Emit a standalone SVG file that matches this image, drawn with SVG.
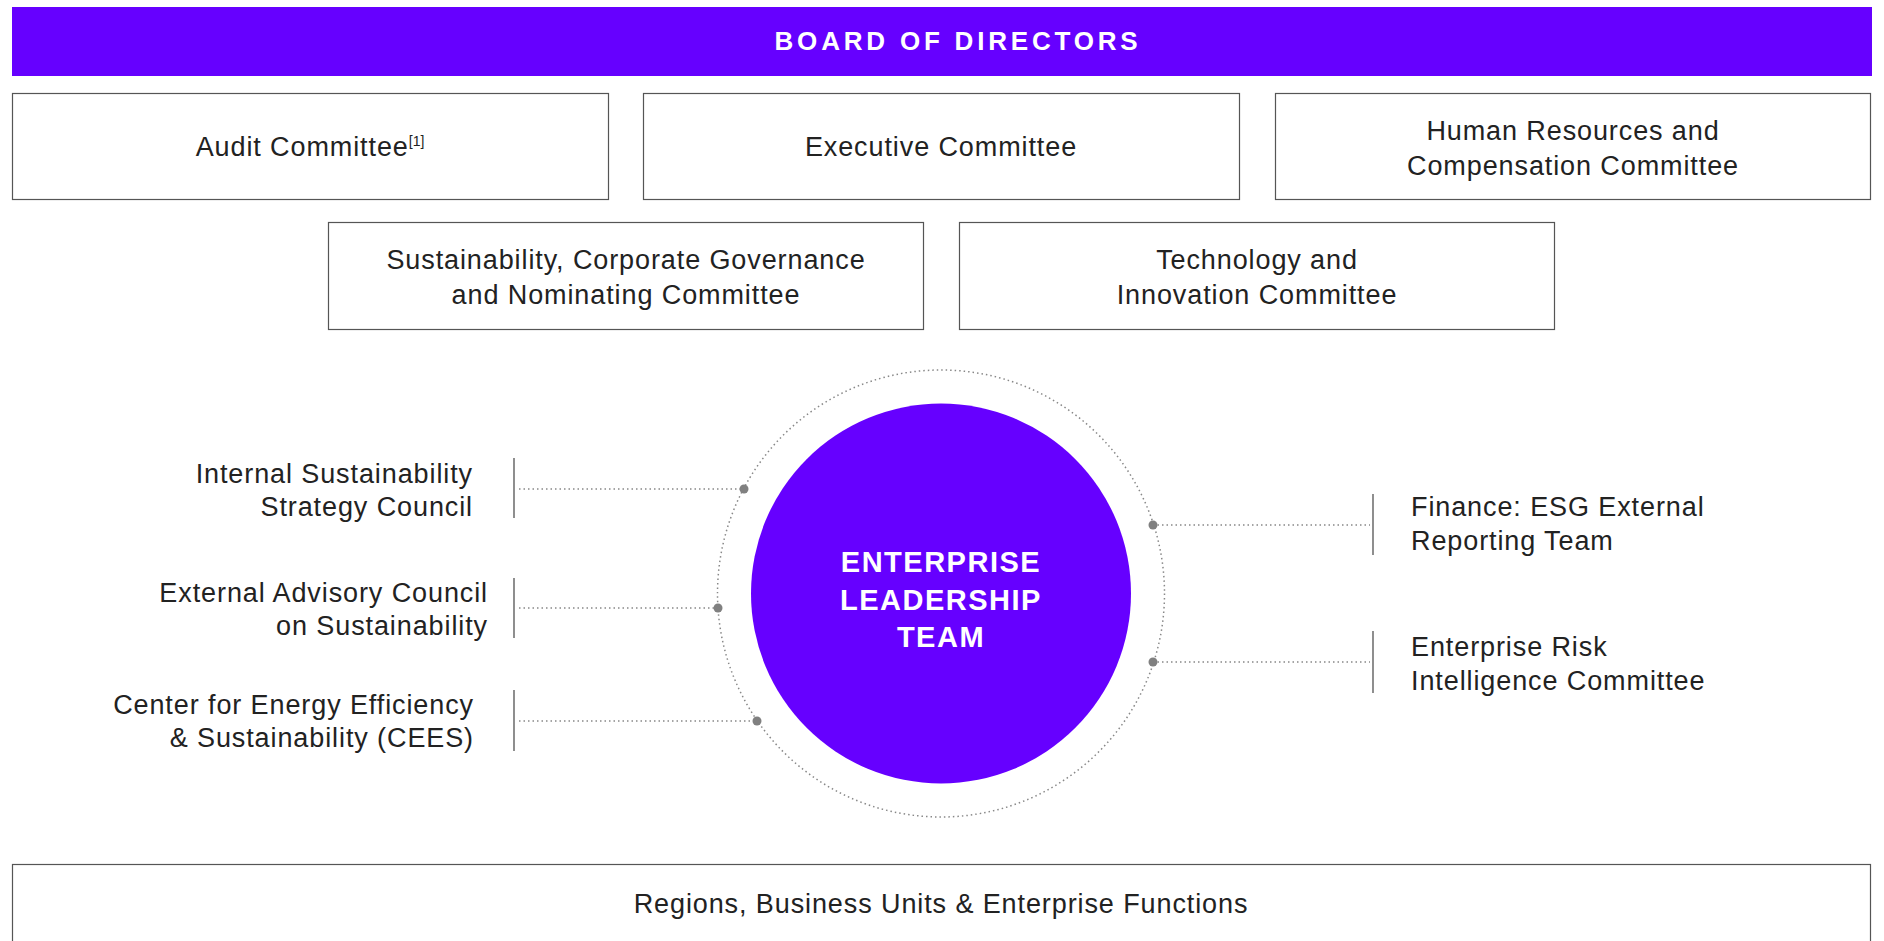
<svg xmlns="http://www.w3.org/2000/svg" width="1884" height="941" viewBox="0 0 1884 941">
<style>
.box{fill:#fff;stroke:#555;stroke-width:1.2}
.t{font-family:"Liberation Sans",Arial,sans-serif;font-size:27px;letter-spacing:0.9px;fill:#222}
.c{text-anchor:middle}
.r{text-anchor:end}
.w{font-family:"Liberation Sans",Arial,sans-serif;font-weight:bold;fill:#fff;text-anchor:middle}
.dot{stroke:#888;stroke-width:1.5;stroke-dasharray:1.5 3;fill:none}
.bar{stroke:#444;stroke-width:1.2}
.pt{fill:#808080}
</style>
<rect width="1884" height="941" fill="#fff"/>
<g id="board">
<rect x="12" y="7" width="1860" height="69" fill="#6600FF"/>
<text class="w" x="958" y="50" font-size="26" letter-spacing="3.8">BOARD OF DIRECTORS</text>
</g>
<g id="audit">
<rect class="box" x="12.5" y="93.5" width="596" height="106"/>
<text class="t c" x="310" y="156">Audit Committee<tspan font-size="14" letter-spacing="0" dy="-10">[1]</tspan></text>
</g>
<g id="executive">
<rect class="box" x="643.5" y="93.5" width="596" height="106"/>
<text class="t c" x="941" y="156">Executive Committee</text>
</g>
<g id="hr">
<rect class="box" x="1275.5" y="93.5" width="595" height="106"/>
<text class="t c" x="1573" y="140">Human Resources and</text>
<text class="t c" x="1573" y="175">Compensation Committee</text>
</g>
<g id="sustainability">
<rect class="box" x="328.5" y="222.5" width="595" height="107"/>
<text class="t c" x="626" y="269">Sustainability, Corporate Governance</text>
<text class="t c" x="626" y="304">and Nominating Committee</text>
</g>
<g id="technology">
<rect class="box" x="959.5" y="222.5" width="595" height="107"/>
<text class="t c" x="1257" y="269">Technology and</text>
<text class="t c" x="1257" y="304">Innovation Committee</text>
</g>
<g id="elt">
<circle cx="941" cy="593.5" r="223.5" class="dot"/>
<circle cx="941" cy="593.5" r="190" fill="#6600FF"/>
<text class="w" x="941" y="572" font-size="29" letter-spacing="1.5">ENTERPRISE</text>
<text class="w" x="941" y="610" font-size="29" letter-spacing="1.5">LEADERSHIP</text>
<text class="w" x="941" y="647" font-size="29" letter-spacing="1.5">TEAM</text>
</g>
<g id="internal">
<line class="bar" x1="514" y1="458" x2="514" y2="518"/>
<text class="t r" x="473" y="483">Internal Sustainability</text>
<text class="t r" x="473" y="516">Strategy Council</text>
</g>
<g id="external">
<line class="bar" x1="514" y1="578" x2="514" y2="638"/>
<text class="t r" x="488" y="602">External Advisory Council</text>
<text class="t r" x="488" y="635">on Sustainability</text>
</g>
<g id="cees">
<line class="bar" x1="514" y1="690" x2="514" y2="751"/>
<text class="t r" x="474" y="714">Center for Energy Efficiency</text>
<text class="t r" x="474" y="747">&amp; Sustainability (CEES)</text>
</g>
<g id="finance">
<line class="bar" x1="1373" y1="494" x2="1373" y2="555"/>
<text class="t" x="1411" y="516">Finance: ESG External</text>
<text class="t" x="1411" y="550">Reporting Team</text>
</g>
<g id="risk">
<line class="bar" x1="1373" y1="631" x2="1373" y2="693"/>
<text class="t" x="1411" y="656">Enterprise Risk</text>
<text class="t" x="1411" y="690">Intelligence Committee</text>
</g>
<g id="regions">
<rect class="box" x="12.5" y="864.5" width="1858" height="100"/>
<text class="t c" x="941" y="913">Regions, Business Units &amp; Enterprise Functions</text>
</g>
<g id="connectors">
<line class="dot" x1="519" y1="489" x2="744" y2="489"/>
<line class="dot" x1="519" y1="608" x2="718" y2="608"/>
<line class="dot" x1="519" y1="721" x2="757" y2="721"/>
<line class="dot" x1="1153" y1="525" x2="1370" y2="525"/>
<line class="dot" x1="1153" y1="662" x2="1370" y2="662"/>
<circle class="pt" cx="744" cy="489" r="4.5"/>
<circle class="pt" cx="718" cy="608" r="4.5"/>
<circle class="pt" cx="757" cy="721" r="4.5"/>
<circle class="pt" cx="1153" cy="525" r="4.5"/>
<circle class="pt" cx="1153" cy="662" r="4.5"/>
</g>
</svg>
